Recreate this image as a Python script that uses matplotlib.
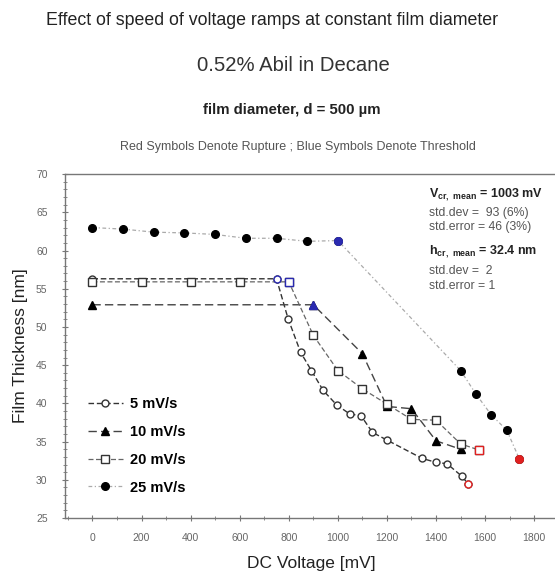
import matplotlib
matplotlib.use("Agg")
import matplotlib.pyplot as plt
from matplotlib.ticker import MultipleLocator

plt.rcParams['font.family'] = ['Liberation Sans', 'DejaVu Sans']

# DC voltage (mV) and film thickness (nm) for each ramp speed
v_5 = [0, 750, 797, 848, 892, 940, 995, 1049, 1094, 1141, 1200, 1343, 1398, 1445, 1504, 1530]
h_5 = [56.3, 56.3, 51.1, 46.7, 44.3, 41.7, 39.8, 38.6, 38.4, 36.2, 35.2, 32.8, 32.3, 32.1, 30.5, 29.5]

v_10 = [0, 900, 1100, 1200, 1300, 1400, 1500]
h_10 = [52.9, 52.9, 46.5, 39.6, 39.3, 35.1, 34.0]

v_20 = [0, 200, 400, 600, 800, 900, 1000, 1100, 1200, 1300, 1400, 1500, 1575]
h_20 = [55.9, 55.9, 55.9, 55.9, 55.9, 48.9, 44.3, 41.9, 39.9, 37.9, 37.8, 34.7, 33.9]

v_25 = [0, 125, 250, 375, 500, 625, 750, 875, 1000, 1500, 1563, 1625, 1688, 1740]
h_25 = [63.0, 62.8, 62.4, 62.3, 62.1, 61.6, 61.6, 61.2, 61.3, 44.3, 41.2, 38.5, 36.5, 32.7]

labels = ["5 mV/s", "10 mV/s", "20 mV/s", "25 mV/s"]
# index of threshold (blue) and rupture (red) point in each series
threshold_idx = [1, 1, 4, 8]
rupture_idx = [15, None, 12, 13]

stats_text = [
    (r"V$_{\mathregular{cr,\ mean}}$ = 1003 mV", True, 21),
    ("std.dev =  93 (6%)", False, 39),
    ("std.error = 46 (3%)", False, 53),
    (r"h$_{\mathregular{cr,\ mean}}$ = 32.4 nm", True, 78),
    ("std.dev =  2", False, 97),
    ("std.error = 1", False, 112),
]

fig = plt.figure(figsize=(5.55, 5.81), dpi=100)
ax = fig.add_axes([0.117, 0.1084, 0.888, 0.592])

styles = [
    dict(ls=(0, (4, 2)), color='#333333', lw=1.0, marker='o', ms=5, mfc='white', mec='#333333'),
    dict(ls=(0, (6, 3)), color='#444444', lw=1.0, marker='^', ms=6, mfc='black', mec='black'),
    dict(ls=(0, (4, 2)), color='#666666', lw=0.9, marker='s', ms=6, mfc='white', mec='#333333'),
    dict(ls=(0, (3, 2, 1, 2)), color='#aaaaaa', lw=0.9, marker='o', ms=5.5, mfc='black', mec='black'),
]

series = [(v_5, h_5), (v_10, h_10), (v_20, h_20), (v_25, h_25)]
for (v, h), st, lab, ti, ri in zip(series, styles, labels, threshold_idx, rupture_idx):
    ax.plot(v, h, label=lab, **st)
    filled = st['mfc'] != 'white'
    ax.plot(v[ti], h[ti], ls='none', marker=st['marker'], ms=st['ms'],
            mfc='#2a2ab0' if filled else 'white', mec='#2a2ab0', zorder=4)
    if ri is not None:
        ax.plot(v[ri], h[ri], ls='none', marker=st['marker'], ms=st['ms'],
                mfc='#e02020' if filled else 'white', mec='#e02020', zorder=4)

ax.set_xlim(-112, 1896)
ax.set_ylim(25, 70)
ax.xaxis.set_major_locator(MultipleLocator(200))
ax.xaxis.set_minor_locator(MultipleLocator(100))
ax.yaxis.set_major_locator(MultipleLocator(5))
ax.yaxis.set_minor_locator(MultipleLocator(1))
ax.tick_params(which='both', direction='inout', colors='#777777', labelcolor='#666666', labelsize=7.5)
ax.tick_params(which='major', length=5, width=0.8)
ax.tick_params(which='minor', length=3, width=0.6)
ax.tick_params(axis='y', pad=10)
ax.tick_params(axis='x', pad=8)
ax.spines['right'].set_visible(False)
for s in ['left', 'bottom', 'top']:
    ax.spines[s].set_color('#777777')
    ax.spines[s].set_linewidth(1.0)

ax.set_xlabel("DC Voltage [mV]", fontsize=12.5, color='#222222', labelpad=10)
ax.set_ylabel("Film Thickness [nm]", fontsize=12.5, color='#222222', labelpad=6)

leg = ax.legend(loc='lower left', bbox_to_anchor=(0.02, 0.03), frameon=False,
                prop={'weight': 'bold', 'size': 10.5}, handlelength=2.4,
                labelspacing=0.95, handletextpad=0.5)

# stats block, positions in pixels below the top spine
ax_h = 0.592 * 581
for txt, bold, dy in stats_text:
    ax.text(0.738, 1 - dy / ax_h, txt, transform=ax.transAxes,
            fontsize=9 if bold else 8.8,
            fontweight='bold' if bold else 'normal',
            color='#222222' if bold else '#555555', va='center', ha='left')

fig.text(0.49, 0.965, "Effect of speed of voltage ramps at constant film diameter",
         ha='center', va='center', fontsize=12.8, color='#222222')
fig.text(0.528, 0.888, "0.52% Abil in Decane", ha='center', va='center',
         fontsize=14.6, color='#333333')
fig.text(0.526, 0.811, "film diameter, d = 500 µm", ha='center', va='center',
         fontsize=10.8, fontweight='bold', color='#222222')
fig.text(0.537, 0.747, "Red Symbols Denote Rupture ; Blue Symbols Denote Threshold",
         ha='center', va='center', fontsize=9, color='#555555')

fig.savefig("out.png", dpi=100)
